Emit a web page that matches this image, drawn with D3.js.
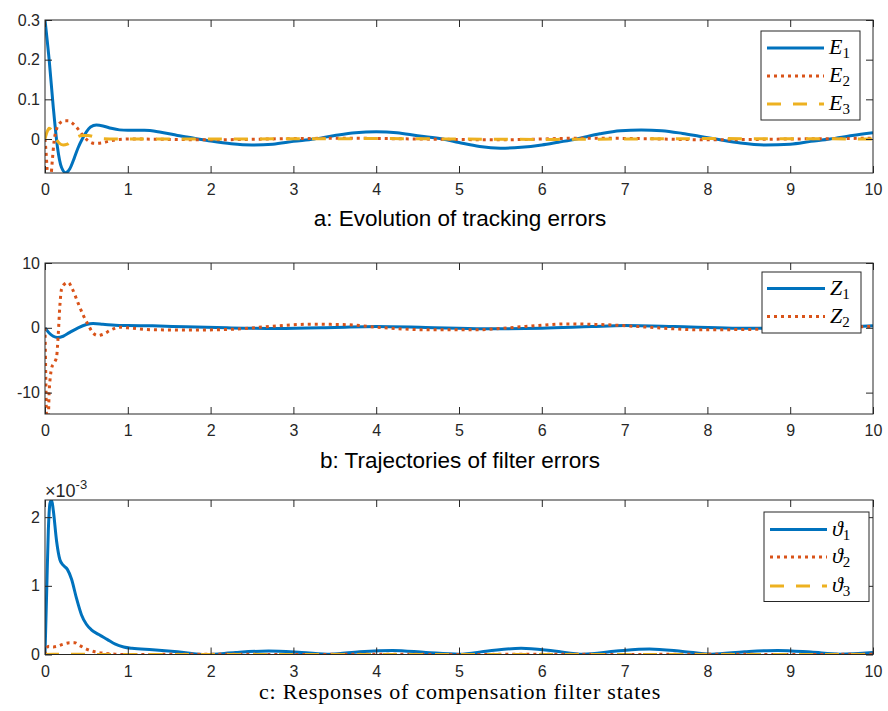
<!DOCTYPE html>
<html>
<head>
<meta charset="utf-8">
<script src="https://cdn.jsdelivr.net/npm/d3@7"></script>
<style>
  body { margin: 0; background: #fff; }
  svg { display: block; }
</style>
</head>
<body>
<div id="chart"></div>
<script>
const xTicks = [0, 1, 2, 3, 4, 5, 6, 7, 8, 9, 10];

// a: tracking errors
const e1T = [0, 0.05, 0.1, 0.15, 0.2, 0.25, 0.3, 0.35, 0.4, 0.45, 0.5, 0.55, 0.62, 0.7, 0.8, 0.9, 1.0, 1.2, 1.4, 1.6, 1.8, 2.0, 2.25, 2.5, 2.75, 3.0, 3.25, 3.5, 3.75, 4.0, 4.25, 4.5, 4.8, 5.0, 5.25, 5.5, 5.75, 6.0, 6.2, 6.42, 6.7, 6.95, 7.2, 7.45, 7.7, 7.9, 8.1, 8.4, 8.7, 9.0, 9.25, 9.48, 9.75, 10];
const e1V = [0.30, 0.20, 0.08, -0.02, -0.072, -0.085, -0.075, -0.05, -0.022, 0.0, 0.018, 0.03, 0.035, 0.033, 0.027, 0.023, 0.022, 0.022, 0.017, 0.009, 0.002, -0.005, -0.012, -0.015, -0.013, -0.006, 0.0, 0.009, 0.016, 0.018, 0.016, 0.008, 0.0, -0.009, -0.019, -0.023, -0.021, -0.015, -0.008, 0.0, 0.013, 0.021, 0.023, 0.021, 0.014, 0.007, 0.0, -0.01, -0.015, -0.013, -0.006, 0.0, 0.009, 0.016];
const e2T = [0, 0.015, 0.03, 0.05, 0.07, 0.09, 0.11, 0.14, 0.18, 0.24, 0.28, 0.33, 0.4, 0.46, 0.52, 0.6, 0.68, 0.78, 0.9, 1.0, 2.0, 3.0, 3.6, 4.5, 5.5, 6.5, 7.2, 8.0, 9.0, 10];
const e2V = [0, -0.04, -0.09, -0.12, -0.1, -0.05, -0.005, 0.025, 0.04, 0.046, 0.046, 0.04, 0.025, 0.008, -0.004, -0.011, -0.01, -0.005, -0.001, 0.0, -0.002, 0.001, 0.002, 0.0, -0.002, 0.002, 0.001, -0.002, 0.0, 0.002];
const e3T = [0, 0.02, 0.05, 0.08, 0.12, 0.17, 0.22, 0.27, 0.32, 0.38, 0.45, 0.52, 0.6, 0.7, 0.85, 2.0, 4.0, 6.0, 8.0, 10];
const e3V = [0, 0.015, 0.027, 0.022, 0.005, -0.01, -0.015, -0.013, -0.005, 0.004, 0.009, 0.009, 0.005, 0.001, 0, 0, 0.001, -0.001, 0.001, 0];

// b: filter errors
const z1T = [0, 0.05, 0.1, 0.15, 0.22, 0.3, 0.4, 0.5, 0.58, 0.7, 0.85, 1.0, 1.3, 1.7, 2.2, 2.8, 3.5, 4.0, 4.6, 5.3, 6.0, 6.6, 7.0, 7.6, 8.3, 9.0, 9.6, 10];
const z1V = [0, -0.8, -1.3, -1.5, -1.3, -0.7, 0.0, 0.5, 0.65, 0.55, 0.4, 0.35, 0.3, 0.15, 0.0, -0.1, 0.05, 0.2, 0.05, -0.15, -0.05, 0.2, 0.35, 0.2, -0.05, -0.1, 0.05, 0.3];
const z2T = [0, 0.01, 0.02, 0.035, 0.05, 0.065, 0.08, 0.1, 0.12, 0.14, 0.16, 0.18, 0.2, 0.24, 0.28, 0.33, 0.4, 0.46, 0.52, 0.58, 0.64, 0.7, 0.8, 0.9, 1.0, 1.3, 1.8, 2.3, 2.8, 3.2, 3.6, 4.1, 4.6, 5.2, 5.8, 6.3, 6.9, 7.4, 7.9, 8.5, 9.0, 9.5, 10];
const z2V = [0, -8, -15, -16, -10, -7.5, -6.2, -5.6, -5.2, -4.5, -1, 3.5, 6, 6.8, 7.0, 6.0, 3.8, 2.0, 0.5, -0.8, -1.2, -1.0, -0.3, 0.1, 0.0, -0.3, -0.35, -0.2, 0.3, 0.55, 0.5, 0.0, -0.3, -0.3, 0.2, 0.6, 0.4, 0.0, -0.3, -0.25, -0.1, 0.1, 0.2];

// c: compensation filter states (x 1e-3)
const th1T = [0, 0.02, 0.04, 0.06, 0.08, 0.1, 0.14, 0.18, 0.22, 0.27, 0.32, 0.38, 0.44, 0.5, 0.56, 0.65, 0.75, 0.85, 0.95, 1.05, 1.3, 1.6, 1.95, 2.3, 2.7, 3.1, 3.45, 3.8, 4.2, 4.6, 5.0, 5.35, 5.75, 6.15, 6.5, 6.9, 7.3, 7.7, 8.05, 8.45, 8.85, 9.25, 9.6, 10];
const th1V = [0, 0.9, 1.8, 2.2, 2.25, 2.1, 1.65, 1.38, 1.3, 1.24, 1.1, 0.82, 0.58, 0.44, 0.36, 0.29, 0.22, 0.15, 0.11, 0.09, 0.07, 0.04, 0.0, 0.03, 0.05, 0.03, 0.005, 0.04, 0.06, 0.03, 0.005, 0.05, 0.09, 0.05, 0.005, 0.05, 0.08, 0.045, 0.005, 0.04, 0.06, 0.035, 0.005, 0.03];
const th2T = [0, 0.01, 0.05, 0.1, 0.15, 0.22, 0.3, 0.36, 0.42, 0.5, 0.6, 0.7, 0.85, 1.0, 2.0, 3.0, 4.0, 5.0, 6.0, 7.0, 8.0, 9.0, 10];
const th2V = [0, 0.08, 0.12, 0.11, 0.12, 0.15, 0.17, 0.17, 0.13, 0.08, 0.04, 0.02, 0.005, 0.0, 0.005, 0.0, 0.005, 0.0, 0.005, 0.0, 0.005, 0.0, 0.005];
const th3T = [0, 0.1, 0.5, 1, 10];
const th3V = [0, 0.005, 0.002, 0, 0];

const width = 888, height = 711;
const svg = d3.select("#chart").append("svg")
  .attr("width", width)
  .attr("height", height);

const x = d3.scaleLinear().domain([0, 10]).range([45, 873]);

const blue = "#0072BD", orange = "#D95319", yellow = "#EDB120";
const dotted = "3,4", dashed = "14,12";
const axisColor = "#262626";

const zip = (t, v) => t.map((d, i) => [d, v[i]]);

function drawPanel(p, idx) {
  const y = d3.scaleLinear().domain(p.yDomain).range([p.bottom, p.top]);
  const g = svg.append("g");

  g.append("clipPath").attr("id", "clip" + idx)
    .append("rect")
    .attr("x", 45).attr("y", p.top)
    .attr("width", 828).attr("height", p.bottom - p.top);

  const line = d3.line()
    .x(d => x(d[0]))
    .y(d => y(d[1]))
    .curve(d3.curveMonotoneX);

  g.append("g").attr("clip-path", `url(#clip${idx})`)
    .selectAll("path")
    .data(p.series)
    .enter().append("path")
    .attr("d", s => line(zip(s.t, s.v)))
    .attr("fill", "none")
    .attr("stroke", s => s.color)
    .attr("stroke-width", 3)
    .attr("stroke-dasharray", s => s.dash);

  // box
  g.append("rect")
    .attr("x", 45).attr("y", p.top)
    .attr("width", 828).attr("height", p.bottom - p.top)
    .attr("fill", "none")
    .attr("stroke", axisColor)
    .attr("stroke-width", 1);

  g.append("g")
    .attr("transform", `translate(0,${p.bottom})`)
    .call(d3.axisBottom(x).tickValues(xTicks).tickSizeInner(-7).tickSizeOuter(0).tickPadding(11).tickFormat(d3.format("d")));
  g.append("g")
    .attr("transform", `translate(0,${p.top})`)
    .call(d3.axisTop(x).tickValues(xTicks).tickSizeInner(-7).tickSizeOuter(0).tickFormat(""));
  g.append("g")
    .attr("transform", "translate(45,0)")
    .call(d3.axisLeft(y).tickValues(p.yTicks).tickSizeInner(-7).tickSizeOuter(0).tickPadding(5).tickFormat(p.yFormat));
  g.append("g")
    .attr("transform", "translate(873,0)")
    .call(d3.axisRight(y).tickValues(p.yTicks).tickSizeInner(-7).tickSizeOuter(0).tickFormat(""));

  g.selectAll(".domain").remove();
  g.selectAll(".tick line").attr("stroke", axisColor);
  g.selectAll(".tick text")
    .attr("fill", axisColor)
    .style("font-family", "'Liberation Sans', Arial, sans-serif")
    .style("font-size", "16px");

  // legend
  const L = p.legend;
  g.append("rect")
    .attr("x", L.x0).attr("y", L.y0)
    .attr("width", L.x1 - L.x0).attr("height", L.y1 - L.y0)
    .attr("fill", "#fff")
    .attr("stroke", axisColor)
    .attr("stroke-width", 1);
  p.series.forEach((s, i) => {
    const ry = L.rows[i];
    g.append("line")
      .attr("x1", L.lx0).attr("x2", L.lx1)
      .attr("y1", ry).attr("y2", ry)
      .attr("stroke", s.color)
      .attr("stroke-width", 3)
      .attr("stroke-dasharray", s.dash);
    const t = g.append("text")
      .attr("x", L.tx).attr("y", ry + 6)
      .attr("fill", "#000")
      .style("font-family", "'Liberation Serif', 'DejaVu Serif', serif")
      .style("font-size", "22px");
    t.append("tspan").style("font-style", "italic").text(s.name);
    t.append("tspan").attr("dy", 4).style("font-size", "15px").text(s.sub);
  });

  // title
  g.append("text")
    .attr("x", 460).attr("y", p.titleY)
    .attr("text-anchor", "middle")
    .attr("fill", "#000")
    .style("font-family", p.titleFont)
    .style("font-size", p.titleSize)
    .style("letter-spacing", p.titleSpacing)
    .text(p.title);

  return y;
}

const sans = "'Liberation Sans', Arial, sans-serif";
const serif = "'Liberation Serif', 'Times New Roman', serif";

const panels = [
  {
    top: 20, bottom: 173, yDomain: [-0.0857, 0.3],
    yTicks: [0, 0.1, 0.2, 0.3],
    yFormat: d => d === 0 ? "0" : d3.format(".1f")(d),
    series: [
      { t: e1T, v: e1V, color: blue, dash: null, name: "E", sub: "1" },
      { t: e2T, v: e2V, color: orange, dash: dotted, name: "E", sub: "2" },
      { t: e3T, v: e3V, color: yellow, dash: dashed, name: "E", sub: "3" }
    ],
    legend: { x0: 761, y0: 31, x1: 860, y1: 120, rows: [48, 76, 104], lx0: 767, lx1: 824, tx: 829 },
    title: "a: Evolution of tracking errors", titleY: 226, titleFont: sans, titleSize: "22.5px", titleSpacing: "0px"
  },
  {
    top: 263, bottom: 414, yDomain: [-13.3, 10],
    yTicks: [-10, 0, 10],
    yFormat: d => String(d),
    series: [
      { t: z1T, v: z1V, color: blue, dash: null, name: "Z", sub: "1" },
      { t: z2T, v: z2V, color: orange, dash: dotted, name: "Z", sub: "2" }
    ],
    legend: { x0: 762, y0: 272, x1: 861, y1: 333, rows: [288.5, 316.5], lx0: 767, lx1: 825, tx: 830 },
    title: "b: Trajectories of filter errors", titleY: 468, titleFont: sans, titleSize: "22.5px", titleSpacing: "0px"
  },
  {
    top: 500, bottom: 654.5, yDomain: [0, 2.25],
    yTicks: [0, 1, 2],
    yFormat: d => String(d),
    series: [
      { t: th1T, v: th1V, color: blue, dash: null, name: "\u03D1", sub: "1" },
      { t: th2T, v: th2V, color: orange, dash: dotted, name: "\u03D1", sub: "2" },
      { t: th3T, v: th3V, color: yellow, dash: dashed, name: "\u03D1", sub: "3" }
    ],
    legend: { x0: 764, y0: 512, x1: 869, y1: 601.5, rows: [529.5, 557, 586], lx0: 770, lx1: 827, tx: 832 },
    title: "c: Responses of compensation filter states", titleY: 699, titleFont: serif, titleSize: "22px", titleSpacing: "0.8px"
  }
];

panels.forEach((p, i) => drawPanel(p, i));

// exponent label for panel c
const expo = svg.append("text")
  .attr("x", 45).attr("y", 497)
  .attr("fill", axisColor)
  .style("font-family", sans)
  .style("font-size", "18px");
expo.append("tspan").text("\u00D710");
expo.append("tspan").attr("dy", -8).style("font-size", "13px").text("-3");
</script>
</body>
</html>
